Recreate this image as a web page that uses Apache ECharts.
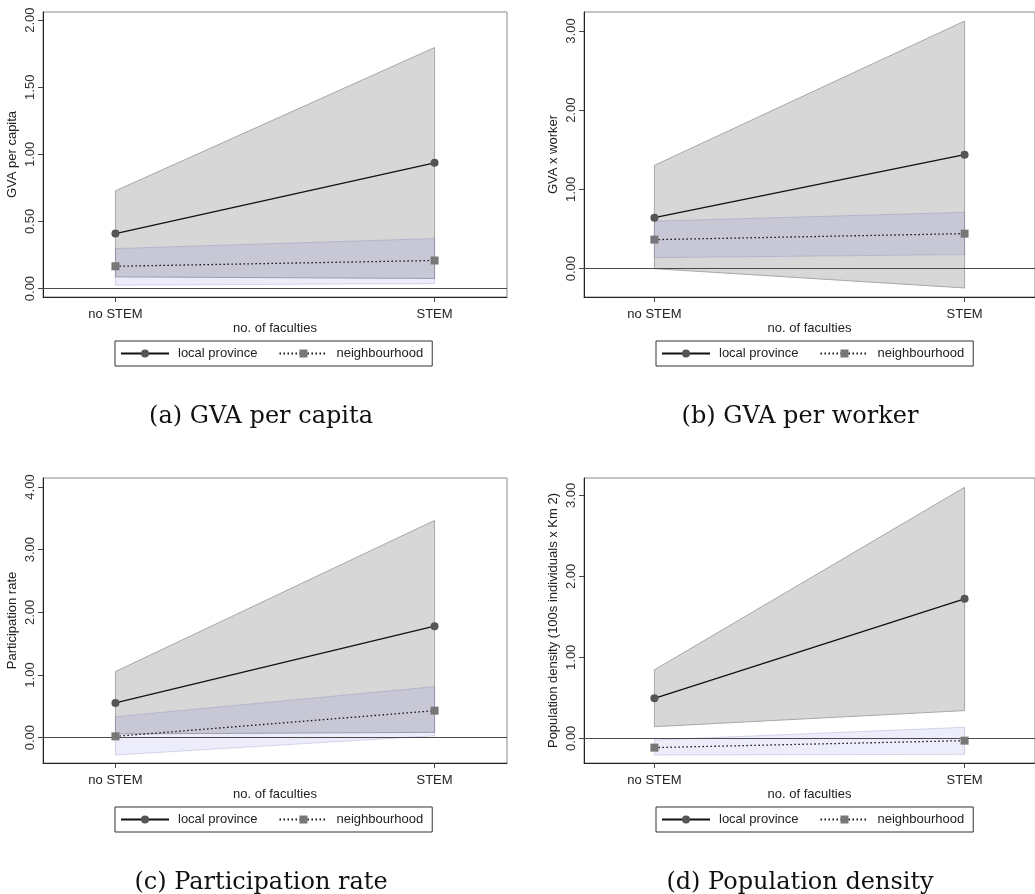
<!DOCTYPE html>
<html>
<head>
<meta charset="utf-8">
<script src="https://cdn.jsdelivr.net/npm/echarts@6/dist/echarts.min.js"></script>
<style>
html,body{margin:0;padding:0;background:#fff;}
#chart{width:1035px;height:894px;}
</style>
</head>
<body>
<div id="chart"></div>
<script>
// ---- data ----
const categories = ['no STEM', 'STEM'];
const captions = ['(a) GVA per capita', '(b) GVA per worker', '(c) Participation rate', '(d) Population density'];
const yTitles = ['GVA per capita', 'GVA x worker', 'Participation rate', 'Population density (100s individuals x Km 2)'];
const xTitle = 'no. of faculties';
const seriesNames = ['local province', 'neighbourhood'];

const yTicksA = [0, 0.5, 1, 1.5, 2];
const yTicksB = [0, 1, 2, 3];
const yTicksC = [0, 1, 2, 3, 4];
const yTicksD = [0, 1, 2, 3];

// (a) GVA per capita
const localA = [0.410, 0.937];
const localLoA = [0.087, 0.075];
const localHiA = [0.728, 1.796];
const neighA = [0.166, 0.209];
const neighLoA = [0.025, 0.037];
const neighHiA = [0.298, 0.373];

// (b) GVA per worker
const localB = [0.644, 1.439];
const localLoB = [0.000, -0.244];
const localHiB = [1.304, 3.126];
const neighB = [0.366, 0.442];
const neighLoB = [0.139, 0.177];
const neighHiB = [0.600, 0.711];

// (c) Participation rate
const localC = [0.554, 1.779];
const localLoC = [0.060, 0.085];
const localHiC = [1.055, 3.467];
const neighC = [0.021, 0.431];
const neighLoC = [-0.277, 0.030];
const neighHiC = [0.336, 0.815];

// (d) Population density
const localD = [0.494, 1.722];
const localLoD = [0.144, 0.342];
const localHiD = [0.845, 3.099];
const neighD = [-0.115, -0.029];
const neighLoD = [-0.206, -0.198];
const neighHiD = [-0.020, 0.136];

// ---- layout ----
const panels = [
  {local: localA, lLo: localLoA, lHi: localHiA, neigh: neighA, nLo: neighLoA, nHi: neighHiA, ticks: yTicksA, yMin: -0.063, yMax: 2.061, left: 43, top: 12},
  {local: localB, lLo: localLoB, lHi: localHiB, neigh: neighB, nLo: neighLoB, nHi: neighHiB, ticks: yTicksB, yMin: -0.358, yMax: 3.24, left: 584, top: 12},
  {local: localC, lLo: localLoC, lHi: localHiC, neigh: neighC, nLo: neighLoC, nHi: neighHiC, ticks: yTicksC, yMin: -0.404, yMax: 4.144, left: 43, top: 478},
  {local: localD, lLo: localLoD, lHi: localHiD, neigh: neighD, nLo: neighLoD, nHi: neighHiD, ticks: yTicksD, yMin: -0.305, yMax: 3.214, left: 584, top: 478}
];
const GW = 464, GH = 285;
const xMin = -0.227, xMax = 1.227;
const sans = 'Liberation Sans, Arial, sans-serif';

function bandRenderer(lo, hi, fill, stroke) {
  return function (params, api) {
    const i = params.dataIndex;
    if (i >= lo.length - 1) return;
    const pts = [
      api.coord([i, hi[i]]), api.coord([i + 1, hi[i + 1]]),
      api.coord([i + 1, lo[i + 1]]), api.coord([i, lo[i]])
    ];
    return {type: 'polygon', shape: {points: pts}, style: {fill: fill, stroke: stroke, lineWidth: 1}};
  };
}

const grid = [], xAxis = [], yAxis = [], series = [], legend = [], title = [];
panels.forEach((p, k) => {
  grid.push({left: p.left, top: p.top, width: GW, height: GH, show: true, borderColor: '#8a8a8a', borderWidth: 1, containLabel: false});
  xAxis.push({
    type: 'value', gridIndex: k, min: xMin, max: xMax,
    name: xTitle, nameLocation: 'middle', nameGap: 25,
    nameTextStyle: {fontFamily: sans, fontSize: 13, color: '#222'},
    axisLine: {show: true, onZero: false, lineStyle: {color: '#222', width: 1}},
    axisTick: {show: true, length: 5, customValues: [0, 1], lineStyle: {color: '#444', width: 1}},
    axisLabel: {customValues: [0, 1], margin: 11, fontFamily: sans, fontSize: 13, color: '#222',
      formatter: v => categories[Math.round(v)]},
    splitLine: {show: false}
  });
  yAxis.push({
    type: 'value', gridIndex: k, min: p.yMin, max: p.yMax,
    name: yTitles[k], nameLocation: 'middle', nameGap: 24,
    nameTextStyle: {fontFamily: sans, fontSize: 13, color: '#222'},
    axisLine: {show: true, onZero: false, lineStyle: {color: '#222', width: 1}},
    axisTick: {show: true, length: 5, customValues: p.ticks, lineStyle: {color: '#444', width: 1}},
    axisLabel: {customValues: p.ticks, rotate: 90, margin: 6, fontFamily: sans, fontSize: 13, color: '#333',
      formatter: v => v.toFixed(2)},
    splitLine: {show: false}
  });
  series.push({
    type: 'custom', xAxisIndex: k, yAxisIndex: k, z: 1, silent: true,
    renderItem: bandRenderer(p.lLo, p.lHi, '#d7d7d7', '#a8a8a8'),
    encode: {x: 0, y: [1, 2]},
    data: p.lLo.map((v, i) => [i, v, p.lHi[i]])
  });
  series.push({
    type: 'custom', xAxisIndex: k, yAxisIndex: k, z: 2, silent: true,
    renderItem: bandRenderer(p.nLo, p.nHi, 'rgba(40,40,210,0.085)', 'rgba(110,110,170,0.25)'),
    encode: {x: 0, y: [1, 2]},
    data: p.nLo.map((v, i) => [i, v, p.nHi[i]])
  });
  series.push({
    name: seriesNames[0], type: 'line', xAxisIndex: k, yAxisIndex: k, z: 4,
    data: p.local.map((v, i) => [i, v]),
    symbol: 'circle', symbolSize: 8,
    lineStyle: {color: '#111', width: 1.3, type: 'solid'},
    itemStyle: {color: '#555', borderWidth: 0},
    markLine: {silent: true, symbol: ['none', 'none'], label: {show: false}, z: 3,
      lineStyle: {color: '#4a4a4a', width: 1.2, type: 'solid'}, data: [{yAxis: 0}]},
    animation: false
  });
  series.push({
    name: seriesNames[1], type: 'line', xAxisIndex: k, yAxisIndex: k, z: 4,
    data: p.neigh.map((v, i) => [i, v]),
    symbol: 'rect', symbolSize: 8,
    lineStyle: {color: '#111', width: 1.3, type: [1.5, 2.5]},
    itemStyle: {color: '#777', borderWidth: 0},
    animation: false
  });
  legend.push({
    data: seriesNames, left: p.left + 72, top: p.top + 329,
    orient: 'horizontal', itemWidth: 48, itemHeight: 10, itemGap: 21,
    padding: [6, 9, 6, 5], borderColor: '#333', borderWidth: 1, borderRadius: 0,
    selectedMode: false,
    textStyle: {fontFamily: sans, fontSize: 13, color: '#222', padding: [0, 0, 0, 4]}
  });
  title.push({
    text: captions[k], left: p.left + (k % 2 === 0 ? 213 : 211), top: p.top + 388, textAlign: 'center',
    textStyle: {fontFamily: 'DejaVu Serif, serif', fontSize: 24, fontWeight: 'normal', color: '#111'}
  });
});

const chart = echarts.init(document.getElementById('chart'), null, {renderer: 'canvas'});
chart.setOption({animation: false, backgroundColor: '#fff', title, grid, xAxis, yAxis, legend, series});
</script>
</body>
</html>
